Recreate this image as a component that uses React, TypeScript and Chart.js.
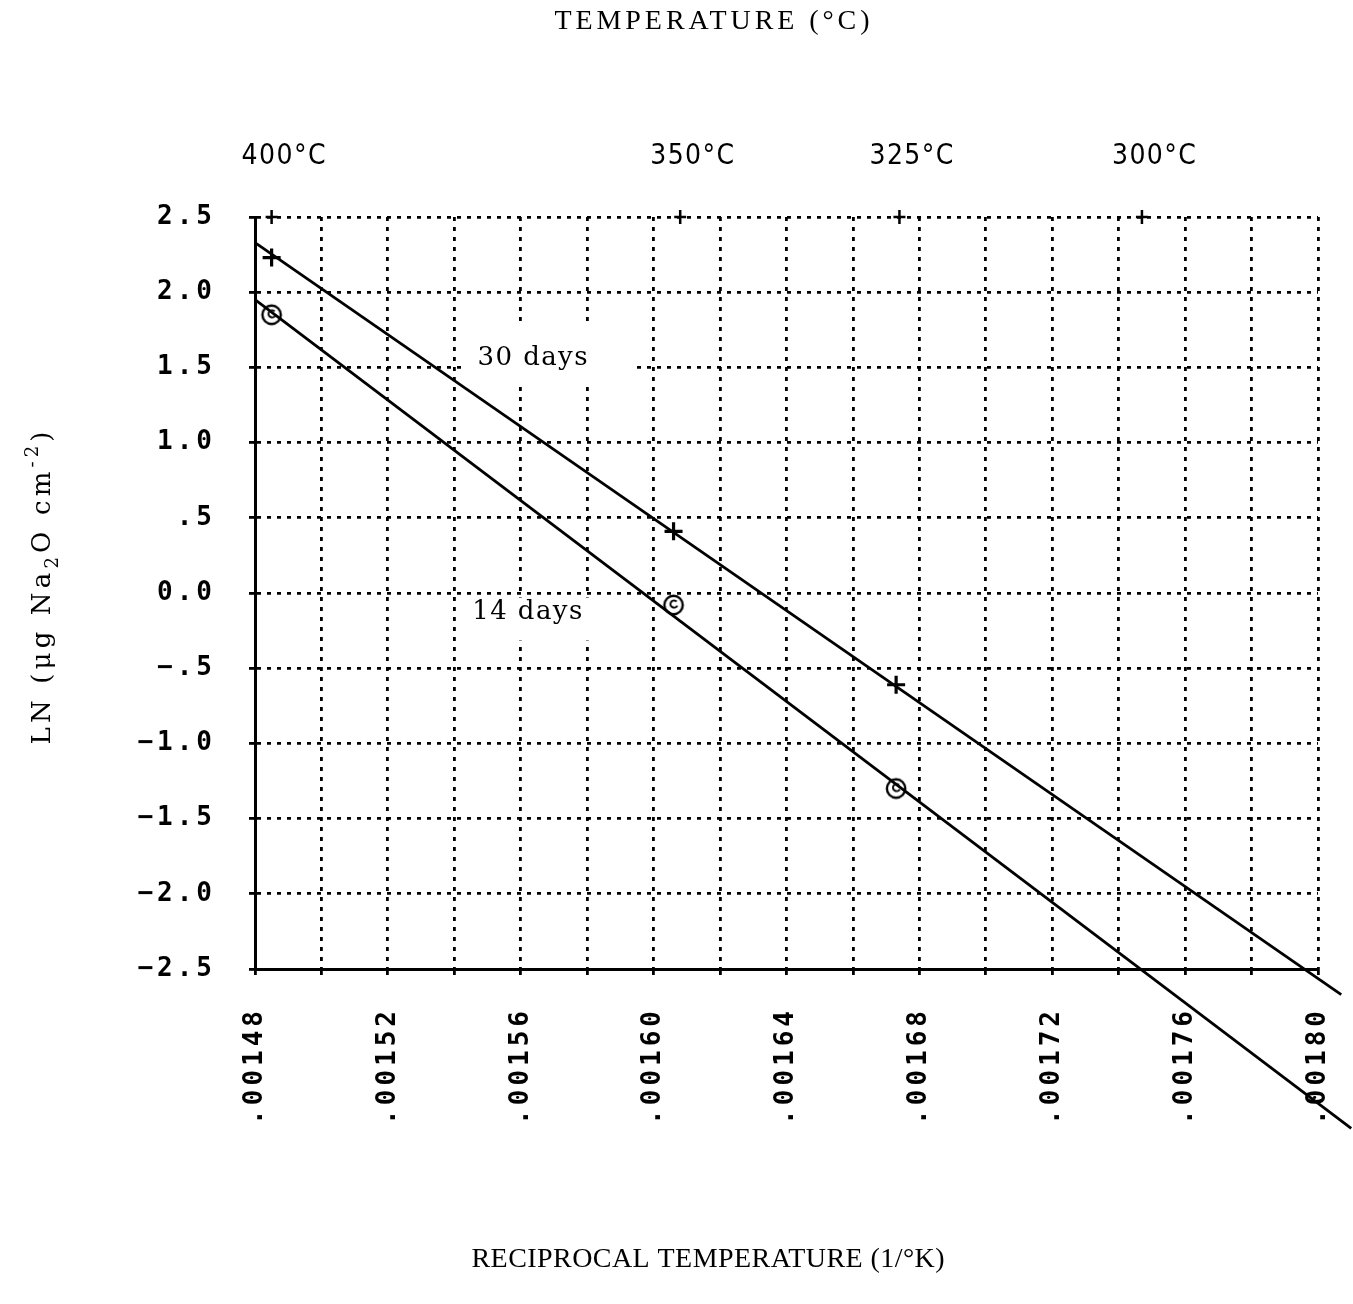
import React, { useEffect, useRef } from 'react';
import { Chart, registerables } from 'chart.js';

Chart.register(...registerables);

// Reciprocal temperature (1/K) of the measured points
const recipTemp = [0.001485, 0.001606, 0.001673];
// LN(ug Na2O cm^-2) after 30 days and 14 days
const ln30Days = [2.23, 0.41, -0.61];
const ln14Days = [1.85, -0.08, -1.3];

// End points of the fitted lines
const fit30X = [0.00148, 0.001807];
const fit30Y = [2.33, -2.67];
const fit14X = [0.00148, 0.00181];
const fit14Y = [1.95, -3.56];

// Temperature reference marks along the top edge
const tempLabels = ['400°C', '350°C', '325°C', '300°C'];
const tempRecip = [0.001485, 0.001608, 0.001674, 0.001747];

// Axis ticks
const xGridValues = [
  0.00148, 0.0015, 0.00152, 0.00154, 0.00156, 0.00158, 0.0016, 0.00162, 0.00164,
  0.00166, 0.00168, 0.0017, 0.00172, 0.00174, 0.00176, 0.00178, 0.0018,
];
const xTickLabels = [
  '.00148', '', '.00152', '', '.00156', '', '.00160', '', '.00164',
  '', '.00168', '', '.00172', '', '.00176', '', '.00180',
];
const yTickValues = [-2.5, -2, -1.5, -1, -0.5, 0, 0.5, 1, 1.5, 2, 2.5];
const yTickLabels = ['−2.5', '−2.0', '−1.5', '−1.0', '−.5', '0.0', '.5', '1.0', '1.5', '2.0', '2.5'];

const seriesNames = ['30 days', '14 days'];

const MONO = '"DejaVu Sans Mono", monospace';
const SERIF_HEAVY = '"DejaVu Serif", serif';
const SERIF = '"Liberation Serif", "DejaVu Serif", serif';
const PLOT_SANS = '"DejaVu Sans Condensed", "Liberation Sans Narrow", "DejaVu Sans", sans-serif';

function makeRingMarker(): HTMLCanvasElement {
  const c = document.createElement('canvas');
  c.width = 26;
  c.height = 26;
  const g = c.getContext('2d')!;
  g.strokeStyle = '#000';
  g.lineWidth = 2.4;
  g.beginPath();
  g.arc(13, 13, 9.2, 0, Math.PI * 2);
  g.stroke();
  g.lineWidth = 2;
  g.beginPath();
  g.arc(13.5, 12, 3.6, Math.PI * 0.15, Math.PI * 1.75);
  g.stroke();
  return c;
}

// Draws text stretched to a given width by spreading its letters.
function drawSpaced(
  ctx: CanvasRenderingContext2D,
  text: string,
  x: number,
  y: number,
  font: string,
  width: number,
  align: 'left' | 'center'
) {
  const c = ctx as any;
  ctx.font = font;
  c.letterSpacing = '0px';
  const natural = ctx.measureText(text).width;
  const n = Array.from(text).length;
  const ls = n > 1 ? (width - natural) / (n - 1) : 0;
  c.letterSpacing = ls + 'px';
  ctx.textAlign = 'left';
  ctx.textBaseline = 'middle';
  ctx.fillText(text, align === 'center' ? x - width / 2 : x, y);
  c.letterSpacing = '0px';
}

type Part = { t: string; size: number; dy: number };

function drawRotatedTitle(ctx: CanvasRenderingContext2D, parts: Part[], cx: number, cy: number, width: number) {
  const c = ctx as any;
  c.letterSpacing = '0px';
  let natural = 0;
  let n = 0;
  for (const p of parts) {
    ctx.font = `${p.size}px ${SERIF_HEAVY}`;
    natural += ctx.measureText(p.t).width;
    n += Array.from(p.t).length;
  }
  const ls = (width - natural) / (n - 1);
  ctx.save();
  ctx.translate(cx, cy);
  ctx.rotate(-Math.PI / 2);
  ctx.textAlign = 'left';
  ctx.textBaseline = 'alphabetic';
  ctx.fillStyle = '#000';
  let pos = -width / 2;
  for (const p of parts) {
    ctx.font = `${p.size}px ${SERIF_HEAVY}`;
    c.letterSpacing = ls + 'px';
    ctx.fillText(p.t, pos, p.dy);
    c.letterSpacing = '0px';
    pos += ctx.measureText(p.t).width + ls * Array.from(p.t).length;
  }
  ctx.restore();
}

const textPlugin = {
  id: 'plotText',
  beforeDraw(chart: any) {
    chart.ctx.letterSpacing = '4px';
  },
  beforeDatasetsDraw(chart: any) {
    const ctx: CanvasRenderingContext2D = chart.ctx;
    const xs = chart.scales.x;
    const ys = chart.scales.y;
    ctx.save();
    (ctx as any).letterSpacing = '0px';
    // curve labels sit on white patches that interrupt the grid
    const anchors = [
      { x: 0.001547, y: 1.56, box: [-16, -33, 171, 58] },
      { x: 0.0015454, y: -0.13, box: [-10, -15, 134, 43] },
    ];
    anchors.forEach((a, i) => {
      const px = xs.getPixelForValue(a.x);
      const py = ys.getPixelForValue(a.y);
      ctx.fillStyle = '#fff';
      ctx.fillRect(px + a.box[0], py + a.box[1], a.box[2], a.box[3]);
      ctx.fillStyle = '#000';
      drawSpaced(ctx, seriesNames[i], px, py, `26px ${SERIF_HEAVY}`, 110, 'left');
    });
    ctx.restore();
  },
  afterDraw(chart: any) {
    const ctx: CanvasRenderingContext2D = chart.ctx;
    (ctx as any).letterSpacing = '0px';
    const xs = chart.scales.x;
    const area = chart.chartArea;
    ctx.save();
    ctx.fillStyle = '#000';
    ctx.strokeStyle = '#000';
    ctx.lineWidth = 2.5;
    tempRecip.forEach((v, i) => {
      const px = xs.getPixelForValue(v);
      ctx.beginPath();
      ctx.moveTo(px, area.top - 7);
      ctx.lineTo(px, area.top + 7);
      ctx.moveTo(px - 6, area.top);
      ctx.lineTo(px + 6, area.top);
      ctx.stroke();
      drawSpaced(ctx, tempLabels[i], px + 12, area.top - 60, `28px ${PLOT_SANS}`, 84, 'center');
    });
    drawSpaced(ctx, 'TEMPERATURE (°C)', 712, 22, `28px ${SERIF}`, 315, 'center');
    drawSpaced(ctx, 'RECIPROCAL TEMPERATURE (1/°K)', 708, 1260, `28px ${SERIF}`, 473, 'center');
    drawRotatedTitle(
      ctx,
      [
        { t: 'LN (μg Na', size: 26, dy: 0 },
        { t: '2', size: 18, dy: 8 },
        { t: 'O cm', size: 26, dy: 0 },
        { t: '-2', size: 18, dy: -12 },
        { t: ')', size: 26, dy: 0 },
      ],
      50,
      588,
      313
    );
    ctx.restore();
  },
};

export default function App() {
  const ref = useRef<HTMLCanvasElement>(null);

  useEffect(() => {
    document.body.style.margin = '0';
    const canvas = ref.current!;
    const ring = makeRingMarker();

    const chart = new Chart(canvas, {
      type: 'scatter',
      data: {
        datasets: [
          {
            label: '30 days fit',
            data: fit30X.map((x, i) => ({ x, y: fit30Y[i] })),
            showLine: true,
            pointRadius: 0,
            borderColor: '#000',
            borderWidth: 2.8,
            clip: false,
          } as any,
          {
            label: '14 days fit',
            data: fit14X.map((x, i) => ({ x, y: fit14Y[i] })),
            showLine: true,
            pointRadius: 0,
            borderColor: '#000',
            borderWidth: 2.8,
            clip: false,
          } as any,
          {
            label: seriesNames[0],
            data: recipTemp.map((x, i) => ({ x, y: ln30Days[i] })),
            showLine: false,
            pointStyle: 'cross',
            pointRadius: 9,
            pointBorderWidth: 3.2,
            borderColor: '#000',
            backgroundColor: '#000',
          },
          {
            label: seriesNames[1],
            data: recipTemp.map((x, i) => ({ x, y: ln14Days[i] })),
            showLine: false,
            pointStyle: ring as any,
            pointRadius: 13,
            borderColor: '#000',
          },
        ],
      },
      options: {
        animation: false,
        responsive: false,
        events: [],
        layout: { padding: { left: 0, top: 217, right: 35, bottom: 0 } },
        plugins: {
          legend: { display: false },
          tooltip: { enabled: false },
          title: { display: false },
        },
        scales: {
          x: {
            type: 'linear',
            min: 0.00148,
            max: 0.0018,
            afterBuildTicks: (s: any) => {
              s.ticks = xGridValues.map((value) => ({ value }));
            },
            afterFit: (s: any) => {
              s.height = 335;
              s.paddingLeft = 0;
              s.paddingRight = 0;
            },
            ticks: {
              autoSkip: false,
              minRotation: 90,
              maxRotation: 90,
              padding: 32,
              color: '#000',
              font: { family: MONO, size: 26, weight: 'bold' },
              callback: (_v: any, i: number) => xTickLabels[i] ?? '',
            },
            grid: {
              color: '#000',
              lineWidth: 2.8,
              tickLength: 6,
              tickWidth: 2.8,
              tickColor: '#000',
            },
            border: { display: true, color: '#000', width: 3, dash: [4, 6] },
          },
          y: {
            type: 'linear',
            min: -2.5,
            max: 2.5,
            afterBuildTicks: (s: any) => {
              s.ticks = yTickValues.map((value) => ({ value }));
            },
            afterFit: (s: any) => {
              s.width = 255;
              s.paddingTop = 0;
              s.paddingBottom = 0;
            },
            ticks: {
              padding: 33,
              color: '#000',
              font: { family: MONO, size: 26, weight: 'bold' },
              callback: (v: any) => yTickLabels[yTickValues.indexOf(Number(v))] ?? '',
            },
            grid: {
              color: '#000',
              lineWidth: 2.8,
              tickLength: 6,
              tickWidth: 2.8,
              tickColor: '#000',
            },
            border: { display: true, color: '#000', width: 3, dash: [4, 6] },
          },
        },
      },
      plugins: [textPlugin],
    });

    return () => chart.destroy();
  }, []);

  return (
    <canvas
      ref={ref}
      width={1353}
      height={1304}
      style={{ display: 'block', width: 1353, height: 1304, background: '#fff' }}
    />
  );
}
